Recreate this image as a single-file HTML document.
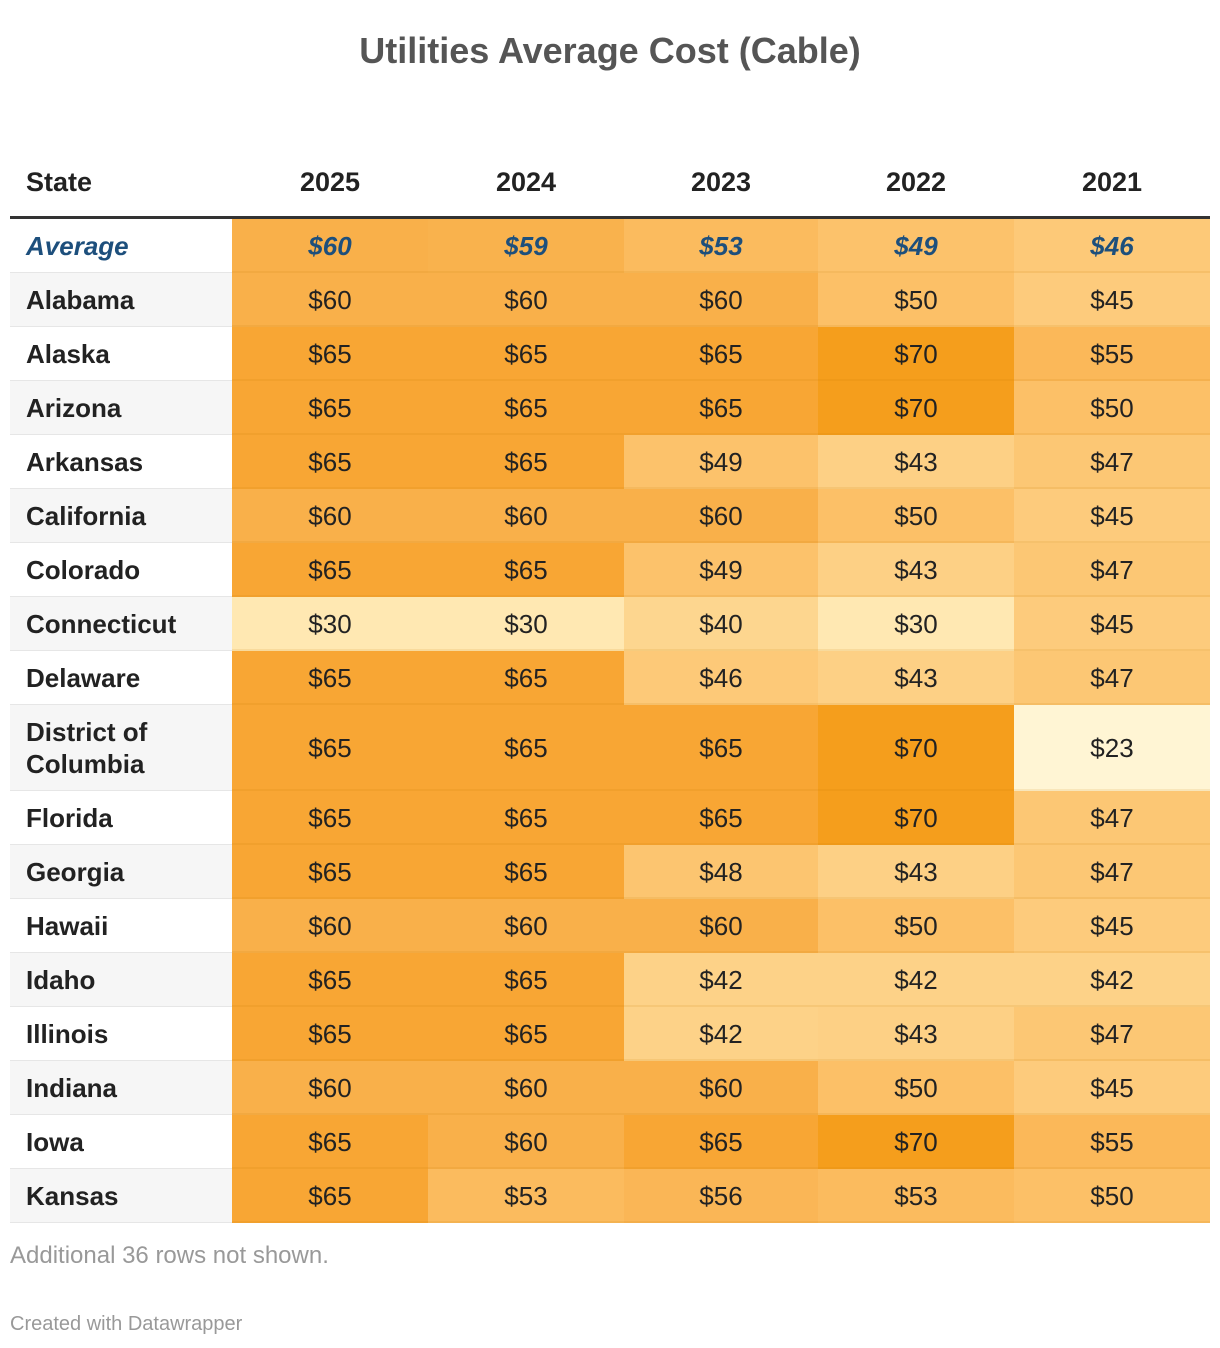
<!DOCTYPE html>
<html><head><meta charset="utf-8"><style>
body{margin:0;width:1220px;height:1348px;background:#fff;font-family:"Liberation Sans",sans-serif;position:relative;overflow:hidden}
#title{position:absolute;top:30px;left:0;width:1220px;text-align:center;font-size:36px;font-weight:bold;color:#555}
#tbl{position:absolute;left:10px;top:150px;width:1200px}
.hdr{position:absolute;top:0;height:66px;line-height:64px;font-size:27px;font-weight:bold;color:#222}
#hline{position:absolute;left:0;top:66px;width:1200px;height:3px;background:#333}
.cell{position:absolute;display:flex;align-items:center;justify-content:center;font-size:26px;color:#222;box-sizing:border-box}
.st{justify-content:flex-start;padding-left:16px;font-weight:bold;line-height:32px}
#note{position:absolute;left:10px;top:1242px;font-size:24px;color:#999}
#credit{position:absolute;left:10px;top:1313px;font-size:20px;color:#999}
</style></head><body>
<div id="title">Utilities Average Cost (Cable)</div>
<div id="tbl"><div id="hline"></div></div>
<div id="note">Additional 36 rows not shown.</div>
<div id="credit">Created with Datawrapper</div>
<script>
const years=["2025","2024","2023","2022","2021"];
const states=["Average","Alabama","Alaska","Arizona","Arkansas","California","Colorado","Connecticut","Delaware","District of Columbia","Florida","Georgia","Hawaii","Idaho","Illinois","Indiana","Iowa","Kansas"];
const v2025=[60,60,65,65,65,60,65,30,65,65,65,65,60,65,65,60,65,65];
const v2024=[59,60,65,65,65,60,65,30,65,65,65,65,60,65,65,60,60,53];
const v2023=[53,60,65,65,49,60,49,40,46,65,65,48,60,42,42,60,65,56];
const v2022=[49,50,70,70,43,50,43,30,43,70,70,43,50,42,43,50,70,53];
const v2021=[46,45,55,50,47,45,47,45,47,23,47,47,45,42,47,45,55,50];
const series=[v2025,v2024,v2023,v2022,v2021];
const stops=[[23,[255,245,212]],[30,[255,232,178]],[43,[253,208,133]],[50,[252,192,103]],[60,[249,176,74]],[65,[248,166,52]],[70,[245,158,28]]];
function color(v){
  if(v<=stops[0][0])return "rgb("+stops[0][1]+")";
  for(let i=1;i<stops.length;i++){if(v<=stops[i][0]){const a=stops[i-1],b=stops[i],t=(v-a[0])/(b[0]-a[0]);
    return "rgb("+a[1].map((c,k)=>Math.round(c+(b[1][k]-c)*t)).join(",")+")";}}
  return "rgb("+stops[stops.length-1][1]+")";
}
const tbl=document.getElementById('tbl');
const stateW=222,colW=[196,196,194,196,196];
function colX(j){let x=stateW;for(let k=0;k<j;k++)x+=colW[k];return x;}
const hs=document.createElement('div');hs.className='hdr';hs.style.left='16px';hs.textContent='State';


tbl.appendChild(hs);
years.forEach((y,j)=>{const d=document.createElement('div');d.className='hdr';d.style.left=colX(j)+'px';d.style.width=colW[j]+'px';d.style.textAlign='center';d.textContent=y;


tbl.appendChild(d);});
let rowTop=69;
states.forEach((s,i)=>{
  const rh=s==="District of Columbia"?86:54;
  const avg=i===0;
  const sc=document.createElement('div');sc.className='cell st';
  sc.style.cssText+=`left:0;top:${rowTop}px;width:${stateW}px;height:${rh}px;background:${(i%2===1)?'#f6f6f6':'#fff'};border-bottom:1px solid #e6e6e6;`;
  if(avg){sc.style.color='#1d4f7c';sc.style.fontStyle='italic';}
  sc.innerHTML=s==="District of Columbia"?"District of<br>Columbia":s;
  
  
  tbl.appendChild(sc);
  series.forEach((ser,j)=>{
    const c=document.createElement('div');c.className='cell';
    c.style.cssText+=`left:${colX(j)}px;top:${rowTop}px;width:${colW[j]}px;height:${rh}px;background:${color(ser[i])};box-shadow:inset 0 -2px 0 rgba(200,120,0,0.12);`;
    if(avg){c.style.color='#1d4f7c';c.style.fontStyle='italic';c.style.fontWeight='bold';}
    c.textContent='$'+ser[i];
    
    
    tbl.appendChild(c);
  });
  rowTop+=rh;
});
</script>
</body></html>
